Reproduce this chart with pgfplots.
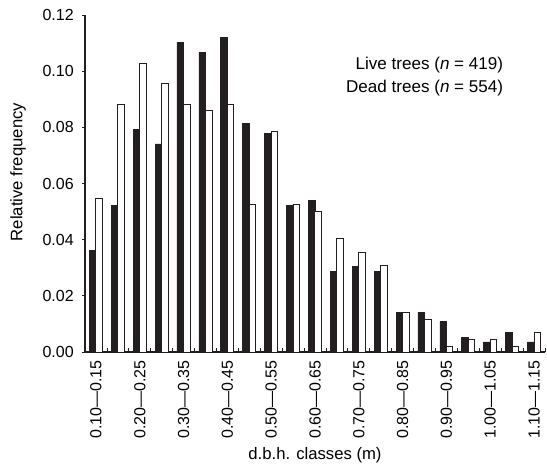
\documentclass[border=0pt]{standalone}
\usepackage{fontspec}
\setmainfont{Liberation Sans}
\usepackage{pgfplots}
\pgfplotsset{compat=1.18}
\definecolor{barblack}{HTML}{231F20}
\begin{document}
\fontsize{12}{14.4}\selectfont
\begin{tikzpicture}
\begin{axis}[
  name=ax,
  scale only axis,
  width=345pt, height=252.75pt,
  axis lines*=left,
  axis line style={line width=0.8pt, barblack},
  xmin=-0.5, xmax=20.5,
  ymin=0, ymax=0.12,
  ybar, bar width=0.3,
  xtick={0,2,4,6,8,10,12,14,16,18,20},
  xticklabels={0.10---0.15,0.20---0.25,0.30---0.35,0.40---0.45,0.50---0.55,0.60---0.65,0.70---0.75,0.80---0.85,0.90---0.95,1.00---1.05,1.10---1.15},
  x tick label style={rotate=90, anchor=east},
  major x tick style={draw=none},
  minor xtick={-0.5,0.5,...,20.5},
  minor x tick style={yshift=3pt, line width=0.6pt, barblack},
  ytick={0,0.02,0.04,0.06,0.08,0.10,0.12},
  yticklabels={0.00,0.02,0.04,0.06,0.08,0.10,0.12},
  y tick style={line width=0.6pt, barblack},
  y tick label style={xshift=-2pt},
  tick align=outside,
  major tick length=2.25pt,
  minor tick length=3pt,
  xlabel={d.b.h. classes (m)},
  xlabel style={at={(axis description cs:0.5,-0.305)}, anchor=center, font=\fontsize{12.5}{15}\selectfont},
  ylabel={Relative frequency},
  ylabel style={at={(axis description cs:-0.1457,0.534)}, anchor=center, font=\fontsize{12.5}{15}\selectfont},
  legend image code/.code={},
  legend cell align=right,
  legend style={draw=none, fill=none, at={(0.924,0.892)}, anchor=north east,
    row sep=2pt, font=\fontsize{12.8}{15}\selectfont},
]
\addplot[fill=barblack, draw=barblack, line width=0.5pt, bar shift=-0.15] coordinates {
(0,0.0362) (1,0.0522) (2,0.0794) (3,0.0741) (4,0.1102) (5,0.1067) (6,0.1119)
(7,0.0813) (8,0.0777) (9,0.0522) (10,0.0541) (11,0.0288) (12,0.0306) (13,0.0288)
(14,0.0142) (15,0.0142) (16,0.0108) (17,0.0052) (18,0.0036) (19,0.0071) (20,0.0036)};
\addlegendentry{Live trees (\textit{n} = 419)}
\addplot[fill=white, draw=barblack, line width=0.75pt, bar shift=0.15] coordinates {
(0,0.0548) (1,0.0883) (2,0.1028) (3,0.0955) (4,0.0883) (5,0.0860) (6,0.0883)
(7,0.0524) (8,0.0786) (9,0.0524) (10,0.0500) (11,0.0404) (12,0.0356) (13,0.0308)
(14,0.0141) (15,0.0117) (16,0.0020) (17,0.0046) (18,0.0046) (19,0.0020) (20,0.0071)};
\addlegendentry{Dead trees (\textit{n} = 554)}
\end{axis}
\pgfresetboundingbox
\path[use as bounding box] ([xshift=-63.75pt,yshift=-87pt]ax.south west) rectangle ([xshift=1.5pt,yshift=11.25pt]ax.north east);
\end{tikzpicture}
\end{document}
